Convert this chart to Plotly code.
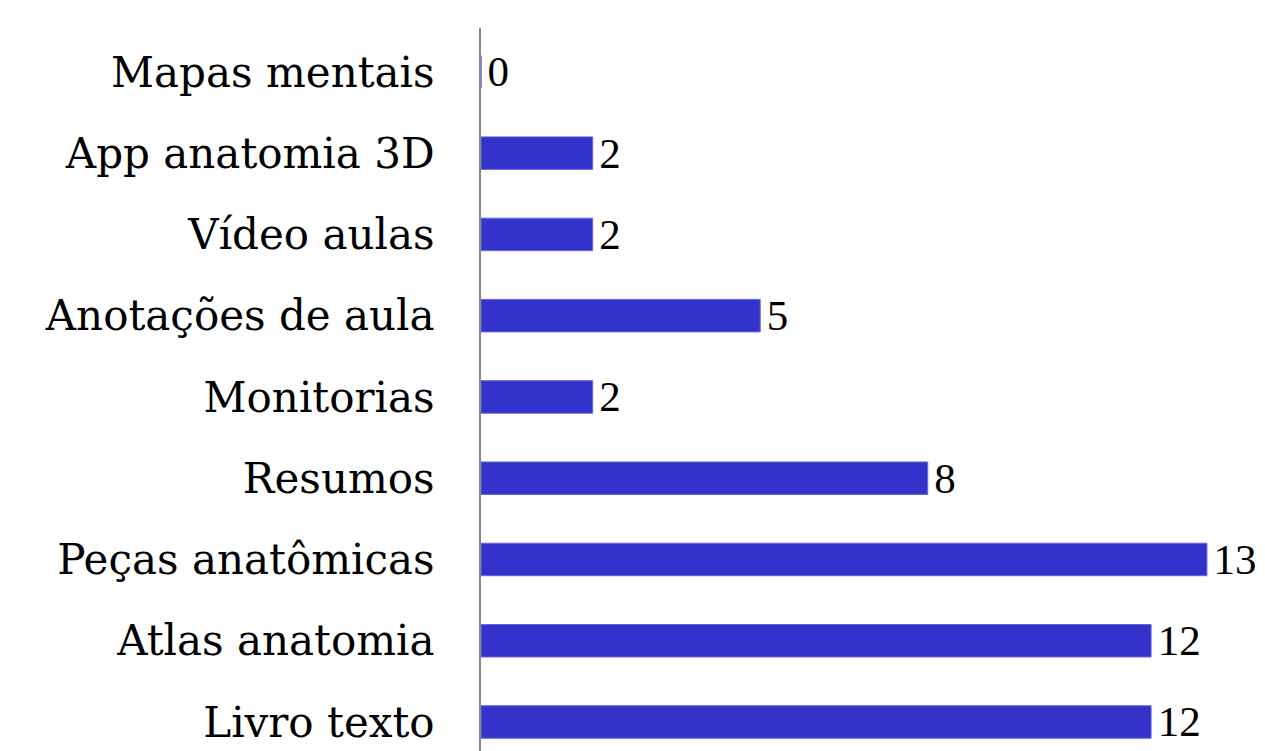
import plotly.graph_objects as go

categories = ["Livro texto", "Atlas anatomia", "Peças anatômicas", "Resumos", "Monitorias",
              "Anotações de aula", "Vídeo aulas", "App anatomia 3D", "Mapas mentais"]
values = [12, 12, 13, 8, 2, 5, 2, 2, 0]

FONT = "DejaVu Serif"
FS = 42
LABEL_FONT = "Liberation Serif"

fig = go.Figure(go.Bar(
    x=values, y=categories, orientation="h",
    marker=dict(color="#3333CC", line=dict(color="#6666DD", width=1)),
    text=[f"\u200a{v}" for v in values], textposition="outside",
    textfont=dict(family=LABEL_FONT, size=43, color="black"),
    constraintext="none",
    cliponaxis=False, width=0.4,
))
fig.update_layout(
    width=1257, height=743,
    margin=dict(l=473, r=0, t=20, b=0),
    paper_bgcolor="white", plot_bgcolor="white",
    showlegend=False,
    xaxis=dict(range=[0, 14.04], visible=False, showgrid=False, zeroline=False),
    yaxis=dict(range=[-0.357, 8.54], showgrid=False, zeroline=False,
               showline=True, linecolor="#888888", linewidth=2,
               ticks="", ticklabelstandoff=36,
               tickfont=dict(family=FONT, size=FS, color="black"),
               automargin=False),
)
fig.write_html("out.html")
